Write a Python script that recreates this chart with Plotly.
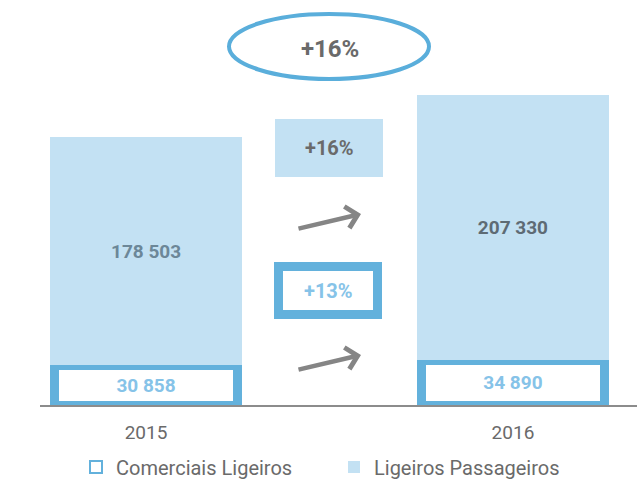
import plotly.graph_objects as go

# ── Data ──────────────────────────────────────────────────────────────────────
years = ["2015", "2016"]
comerciais = [30858, 34890]        # Comerciais Ligeiros
passageiros = [178503, 207330]     # Ligeiros Passageiros
growth_total = "+16%"
growth_passageiros = "+16%"
growth_comerciais = "+13%"

_LIGHT = "#c3e1f3"
_BLUE = "#63b1dc"
_LABEL_BLUE = "#86c3e8"
_GREY_TXT = "#6a6a6a"
_FONT = "Roboto"

x_pos = list(range(len(years)))


def fmt(v):
    return f"{v:,}".replace(",", " ")


fig = go.Figure()

# bottom segment: white box with thick blue border (legend entry drawn separately
# so its icon keeps a thin outline like the original)
fig.add_trace(go.Bar(
    x=x_pos, y=comerciais,
    name="Comerciais Ligeiros",
    width=0.5, showlegend=False,
    marker=dict(color="white", line=dict(color=_BLUE, width=9)),
    text=[fmt(v) for v in comerciais],
    textposition="inside", insidetextanchor="middle", textangle=0,
    constraintext="none",
    textfont=dict(family=_FONT, size=19, color=_LABEL_BLUE, weight="bold"),
))

fig.add_trace(go.Bar(
    x=x_pos, y=passageiros,
    name="Ligeiros Passageiros",
    width=0.525, showlegend=False,
    marker=dict(color=_LIGHT, line=dict(width=0)),
    text=[fmt(v) for v in passageiros],
    textposition="inside", insidetextanchor="middle", textangle=0,
    constraintext="none",
    textfont=dict(family=_FONT, size=19, color=["#6c8798", "#5e6b74"], weight="bold"),
))

# legend entries
fig.add_trace(go.Bar(x=[None], y=[None], name="Comerciais Ligeiros",
                     marker=dict(color="white", line=dict(color=_BLUE, width=2))))
fig.add_trace(go.Bar(x=[None], y=[None], name="Ligeiros Passageiros",
                     marker=dict(color=_LIGHT, line=dict(width=0))))

# ── Growth decorations (paper coords: plot area 40..637 x 0..405 px) ─────────
def px(x):
    return (x - 40) / 597


def py(y):
    return (405 - y) / 405


fig.add_shape(type="circle", xref="paper", yref="paper",
              x0=px(229), x1=px(429), y0=py(79), y1=py(14),
              line=dict(color="#5aaedb", width=4))
fig.add_annotation(x=px(330), y=py(49), xref="paper", yref="paper",
                   xanchor="center", yanchor="middle",
                   text=f"<b>{growth_total}</b>", showarrow=False,
                   font=dict(family=_FONT, size=24, color=_GREY_TXT))

fig.add_shape(type="rect", xref="paper", yref="paper",
              x0=px(275), x1=px(383), y0=py(177), y1=py(119),
              fillcolor=_LIGHT, line=dict(width=0))
fig.add_annotation(x=px(329), y=py(148), xref="paper", yref="paper",
                   xanchor="center", yanchor="middle",
                   text=f"<b>{growth_passageiros}</b>", showarrow=False,
                   font=dict(family=_FONT, size=20, color=_GREY_TXT))

fig.add_shape(type="rect", xref="paper", yref="paper",
              x0=px(278.5), x1=px(377.5), y0=py(314.5), y1=py(266.5),
              fillcolor="white", line=dict(color=_BLUE, width=9))
fig.add_annotation(x=px(328), y=py(291), xref="paper", yref="paper",
                   xanchor="center", yanchor="middle",
                   text=f"<b>{growth_comerciais}</b>", showarrow=False,
                   font=dict(family=_FONT, size=20, color=_LABEL_BLUE))

for head_y in (214, 355):
    fig.add_annotation(x=px(361), y=py(head_y), xref="paper", yref="paper",
                       ax=-64, ay=15, text="", showarrow=True,
                       arrowhead=4, arrowsize=0.95, arrowwidth=4.5,
                       arrowcolor="#858585")

fig.update_layout(
    barmode="stack",
    width=637, height=479,
    margin=dict(l=40, r=0, t=0, b=74, autoexpand=False),
    paper_bgcolor="white", plot_bgcolor="white",
    font=dict(family=_FONT, color=_GREY_TXT),
    showlegend=True,
    legend=dict(orientation="h", x=76 / 637, xanchor="left", xref="container",
                y=(479 - 467) / 479, yanchor="middle", yref="container",
                font=dict(family=_FONT, size=20, color=_GREY_TXT),
                itemwidth=30, entrywidth=213, traceorder="normal"),
)
fig.update_xaxes(range=[-0.289, 1.338], tickvals=x_pos, ticktext=years,
                 showgrid=False, zeroline=False, showline=True,
                 linecolor="#8c8c8c", linewidth=2, ticks="",
                 ticklabelstandoff=9,
                 tickfont=dict(family=_FONT, size=19, color=_GREY_TXT))
fig.update_yaxes(range=[0, 316300], visible=False)

fig.write_html("out.html", config={"displayModeBar": False},
               post_script="document.body.style.margin='0';")
